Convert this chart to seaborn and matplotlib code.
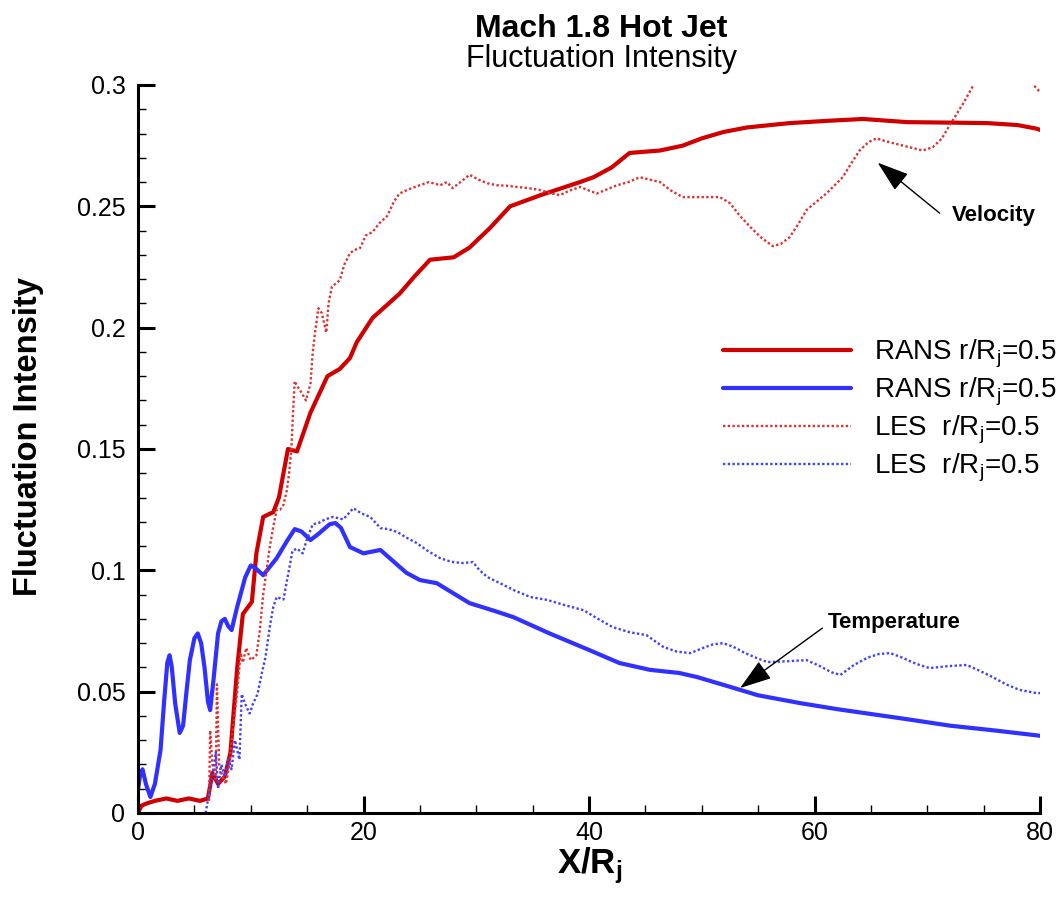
import matplotlib
matplotlib.use("Agg")
import matplotlib.pyplot as plt
import seaborn as sns
import pandas as pd
from matplotlib.ticker import MultipleLocator, FixedLocator, FixedFormatter

# ---------------- data ----------------
rans_vel_x = [0, 0.3, 0.8, 1.5, 2.5, 3.5, 4.5, 5.5, 6.2, 6.6, 7.1, 7.7, 8.2, 8.8, 9.3, 10.1, 10.5,
              11.1, 12.0, 12.5, 13.3, 14.1, 15.3, 16.8, 17.9, 18.8, 19.4, 20.8, 22.0, 23.2, 24.5,
              25.9, 28.0, 29.4, 31.2, 33.0, 35.7, 39.2, 40.4, 42.0, 43.6, 46.3, 48.3, 50.0, 51.9,
              54.0, 57.8, 61.0, 64.3, 68.2, 72.0, 75.3, 78.0, 79.7, 80]
rans_vel_y = [0, 0.003, 0.004, 0.005, 0.006, 0.005, 0.006, 0.005, 0.006, 0.0165, 0.012, 0.015,
              0.025, 0.06, 0.082, 0.087, 0.107, 0.122, 0.124, 0.130, 0.150, 0.149, 0.165, 0.180,
              0.183, 0.1875, 0.194, 0.204, 0.209, 0.214, 0.221, 0.228, 0.229, 0.233, 0.241, 0.250,
              0.2546, 0.260, 0.262, 0.266, 0.272, 0.273, 0.275, 0.278, 0.2806, 0.2825, 0.2843,
              0.2852, 0.286, 0.2847, 0.2845, 0.2843, 0.2835, 0.282, 0.2815]

rans_temp_x = [0, 0.2, 0.4, 0.7, 1.1, 1.5, 2.0, 2.3, 2.6, 2.8, 3.0, 3.3, 3.7, 4.0, 4.3, 4.6, 5.0,
               5.3, 5.6, 5.9, 6.2, 6.4, 6.7, 7.1, 7.4, 7.7, 8.0, 8.3, 8.8, 9.5, 10.0, 10.4, 11.1,
               12.3, 13.2, 13.9, 14.5, 15.3, 16.0, 17.0, 17.5, 18.0, 18.8, 20.0, 21.5, 23.8, 25.0,
               26.5, 29.4, 31.8, 33.3, 36.5, 40.1, 42.7, 45.4, 48.0, 49.6, 52.5, 55.0, 58.7, 62.0,
               64.7, 68.0, 72.0, 76.0, 79.7, 80]
rans_temp_y = [0.0095, 0.016, 0.018, 0.012, 0.0066, 0.012, 0.026, 0.045, 0.062, 0.065, 0.060,
               0.045, 0.033, 0.036, 0.050, 0.063, 0.072, 0.074, 0.070, 0.060, 0.046, 0.0424, 0.055,
               0.074, 0.079, 0.080, 0.077, 0.0754, 0.085, 0.097, 0.102, 0.101, 0.098, 0.105, 0.112,
               0.117, 0.116, 0.1125, 0.115, 0.119, 0.1195, 0.1175, 0.1096, 0.107, 0.1084, 0.099,
               0.096, 0.0947, 0.0865, 0.083, 0.0807, 0.074, 0.067, 0.0618, 0.059, 0.0577, 0.056,
               0.052, 0.0485, 0.0453, 0.0428, 0.041, 0.0388, 0.036, 0.034, 0.032, 0.0318]

les_vel_x = [6.3, 6.4, 6.6, 6.9, 7.0, 7.2, 7.5, 7.8, 8.1, 8.4, 8.8, 9.1, 9.3, 9.6, 10.0, 10.5,
             10.8, 11.1, 11.4, 11.7, 12.0, 12.3, 12.6, 12.9, 13.2, 13.4, 13.6, 13.75, 13.9, 14.1,
             14.4, 14.9, 15.3, 15.5, 15.7, 16.0, 16.3, 16.7, 16.9, 17.2, 17.5, 17.9, 18.3, 18.8,
             19.2, 19.7, 20.2, 20.8, 21.4, 22.1, 22.7, 23.2, 24.0, 25.0, 25.8, 26.8, 27.4, 27.9,
             28.6, 29.4, 30.2, 31.0, 31.8, 32.7, 33.6, 34.6, 35.7, 36.5, 37.4, 38.3, 39.2, 40.0,
             40.7, 41.6, 42.5, 43.5, 44.5, 45.4, 46.3, 47.2, 48.3, 50.0, 51.6, 52.5, 53.4, 54.3,
             55.3, 56.3, 57.0, 57.8, 58.6, 59.3, 60.2, 61.1, 62.5, 63.3, 64.0, 64.8, 65.5, 66.2,
             67.0, 68.3, 69.6, 70.5, 71.3, 72.0, 73.2, 74.2, 75.5, 77.0, 78.3, 79.3, 79.7, 80]
les_vel_y = [0.005, 0.034, 0.02, 0.014, 0.053, 0.02, 0.015, 0.012, 0.02, 0.034, 0.05, 0.066,
             0.062, 0.068, 0.063, 0.065, 0.075, 0.09, 0.10, 0.11, 0.118, 0.125, 0.125, 0.127,
             0.133, 0.14, 0.1496, 0.165, 0.178, 0.176, 0.174, 0.170, 0.177, 0.19, 0.198, 0.208,
             0.206, 0.198, 0.21, 0.217, 0.218, 0.2196, 0.226, 0.2307, 0.232, 0.2328, 0.238,
             0.2394, 0.243, 0.246, 0.252, 0.2553, 0.257, 0.2587, 0.260, 0.2587, 0.260, 0.2575,
             0.260, 0.263, 0.261, 0.2595, 0.2587, 0.2585, 0.258, 0.2575, 0.2567, 0.2555, 0.2546,
             0.2565, 0.258, 0.2565, 0.2553, 0.257, 0.2587, 0.260, 0.262, 0.261, 0.260, 0.2567,
             0.2538, 0.2538, 0.2538, 0.2513, 0.246, 0.2415, 0.237, 0.2336, 0.2345, 0.2373, 0.243,
             0.2485, 0.252, 0.2555, 0.262, 0.268, 0.273, 0.2765, 0.278, 0.277, 0.276, 0.2745,
             0.273, 0.2744, 0.278, 0.2835, 0.2925, 0.3008, 0.308, 0.312, 0.306, 0.3005, 0.2987,
             0.297]

les_temp_x = [6.0, 6.3, 6.6, 6.9, 7.1, 7.4, 7.7, 8.0, 8.3, 8.6, 9.0, 9.2, 9.5, 9.9, 10.2, 10.6,
              11.0, 11.3, 11.7, 12.0, 12.3, 12.9, 13.3, 13.7, 14.1, 14.6, 15.0, 15.5, 16.0, 16.6,
              17.3, 18.2, 19.1, 19.8, 20.6, 21.5, 22.2, 23.0, 23.8, 24.7, 25.7, 26.8, 27.8, 28.8,
              29.7, 30.3, 31.0, 32.2, 33.3, 34.8, 36.3, 37.9, 39.5, 40.8, 42.1, 43.6, 45.1, 45.8,
              46.6, 47.8, 49.0, 50.1, 51.0, 51.9, 52.8, 53.8, 54.8, 55.8, 57.5, 59.3, 60.5, 61.5,
              62.3, 63.5, 64.7, 65.7, 66.7, 67.8, 69.0, 70.2, 71.8, 73.5, 74.7, 75.8, 77.0, 78.2,
              79.7, 80]
les_temp_y = [0.0, 0.008, 0.015, 0.025, 0.01, 0.02, 0.015, 0.022, 0.018, 0.03, 0.022, 0.049,
              0.045, 0.041, 0.045, 0.049, 0.058, 0.064, 0.077, 0.085, 0.089, 0.088, 0.098, 0.108,
              0.109, 0.107, 0.113, 0.119, 0.1195, 0.121, 0.122, 0.121, 0.1256, 0.1235, 0.122,
              0.1174, 0.117, 0.1158, 0.1135, 0.1113, 0.108, 0.105, 0.1035, 0.103, 0.1034, 0.100,
              0.0972, 0.0945, 0.0919, 0.089, 0.0878, 0.0856, 0.0836, 0.080, 0.0766, 0.0745,
              0.0733, 0.071, 0.0684, 0.0665, 0.0659, 0.068, 0.0695, 0.070, 0.0685, 0.066, 0.064,
              0.0622, 0.0625, 0.063, 0.0605, 0.058, 0.0569, 0.061, 0.064, 0.0655, 0.0659, 0.064,
              0.0615, 0.0597, 0.0605, 0.061, 0.0585, 0.056, 0.053, 0.0507, 0.0494, 0.0494]

labels = ["RANS r/R$\\mathregular{_j}$=0.5", "RANS r/R$\\mathregular{_j}$=0.5",
          "LES  r/R$\\mathregular{_j}$=0.5", "LES  r/R$\\mathregular{_j}$=0.5"]
y_ticks = [0, 0.05, 0.1, 0.15, 0.2, 0.25, 0.3]
y_ticklabels = ["0", "0.05", "0.1", "0.15", "0.2", "0.25", "0.3"]
x_ticks = [0, 20, 40, 60, 80]

# ---------------- style ----------------
sns.set_style("white")
plt.rcParams["font.family"] = ["Liberation Sans", "DejaVu Sans"]
plt.rcParams["text.color"] = "black"
plt.rcParams["axes.labelcolor"] = "black"
plt.rcParams["xtick.color"] = "black"
plt.rcParams["ytick.color"] = "black"

W, H = 1057, 898
fig = plt.figure(figsize=(W / 100, H / 100), dpi=100)
ax = fig.add_axes([138 / W, 1 - 813 / H, (1040 - 138) / W, (813 - 85) / H])

red_solid = "#d00000"
blue_solid = "#3030ff"
red_dot = "#e03030"
blue_dot = "#4040ff"
dot = (0, (1.0, 1.0))

series = [
    (rans_vel_x, rans_vel_y, red_solid, "-", 3.0, labels[0]),
    (rans_temp_x, rans_temp_y, blue_solid, "-", 3.0, labels[1]),
    (les_vel_x, les_vel_y, red_dot, dot, 1.7, labels[2]),
    (les_temp_x, les_temp_y, blue_dot, dot, 1.7, labels[3]),
]
for xs, ys, c, ls, lw, lab in series:
    df = pd.DataFrame({"x": xs, "y": ys})
    sns.lineplot(data=df, x="x", y="y", ax=ax, color=c, linestyle=ls, linewidth=lw,
                 label=lab, estimator=None, sort=False)

ax.set_xlim(0, 80)
ax.set_ylim(0, 0.3)
ax.xaxis.set_major_locator(FixedLocator(x_ticks))
ax.xaxis.set_minor_locator(MultipleLocator(5))
ax.yaxis.set_major_locator(FixedLocator(y_ticks))
ax.yaxis.set_major_formatter(FixedFormatter(y_ticklabels))
ax.yaxis.set_minor_locator(MultipleLocator(0.01))

for s in ["top", "right"]:
    ax.spines[s].set_visible(False)
for s in ["left", "bottom"]:
    ax.spines[s].set_linewidth(2.2)
    ax.spines[s].set_color("black")

ax.tick_params(which="major", direction="in", length=12, width=2.2, labelsize=18,
               color="black", labelcolor="black")
ax.tick_params(which="minor", direction="in", length=6, width=1.0, color="black")
ax.tick_params(axis="x", which="both", bottom=True, top=False, pad=6)
ax.tick_params(axis="y", which="both", left=True, right=False, pad=9)

ax.set_xlabel("X/R$\\mathregular{_j}$", fontsize=25, fontweight="bold", va="center")
ax.xaxis.set_label_coords((590 - 138) / 902, (813 - 866) / 728)
ax.set_ylabel("Fluctuation Intensity", fontsize=23.5, fontweight="bold", va="center")
ax.yaxis.set_label_coords((29 - 138) / 902, (813 - 437) / 728)

fig.text(601 / W, 1 - 29 / H, "Mach 1.8 Hot Jet", fontsize=23, fontweight="bold",
         ha="center", va="center")
fig.text(601 / W, 1 - 59 / H, "Fluctuation Intensity", fontsize=22,
         ha="center", va="center")

# annotations
ax.text(72.2, 0.2464, "Velocity", fontsize=16, fontweight="bold", ha="left", va="center")
ax.annotate("", xy=(65.6, 0.268), xytext=(71.1, 0.2472),
            arrowprops=dict(arrowstyle="-|>,head_length=0.9,head_width=0.3", color="black",
                            lw=1.0, mutation_scale=22, shrinkA=0, shrinkB=0))
ax.text(61.2, 0.0783, "Temperature", fontsize=16, fontweight="bold", ha="left", va="center")
ax.annotate("", xy=(53.4, 0.0515), xytext=(60.7, 0.0762),
            arrowprops=dict(arrowstyle="-|>,head_length=0.9,head_width=0.3", color="black",
                            lw=1.0, mutation_scale=22, shrinkA=0, shrinkB=0))

leg = ax.legend(loc="upper left", bbox_to_anchor=(723 / W, 1 - 338 / H),
                bbox_transform=fig.transFigure, frameon=False, fontsize=20,
                handlelength=4.6, handletextpad=0.85, labelspacing=0.2,
                borderpad=0, borderaxespad=0)

fig.savefig("out.png", dpi=100)
